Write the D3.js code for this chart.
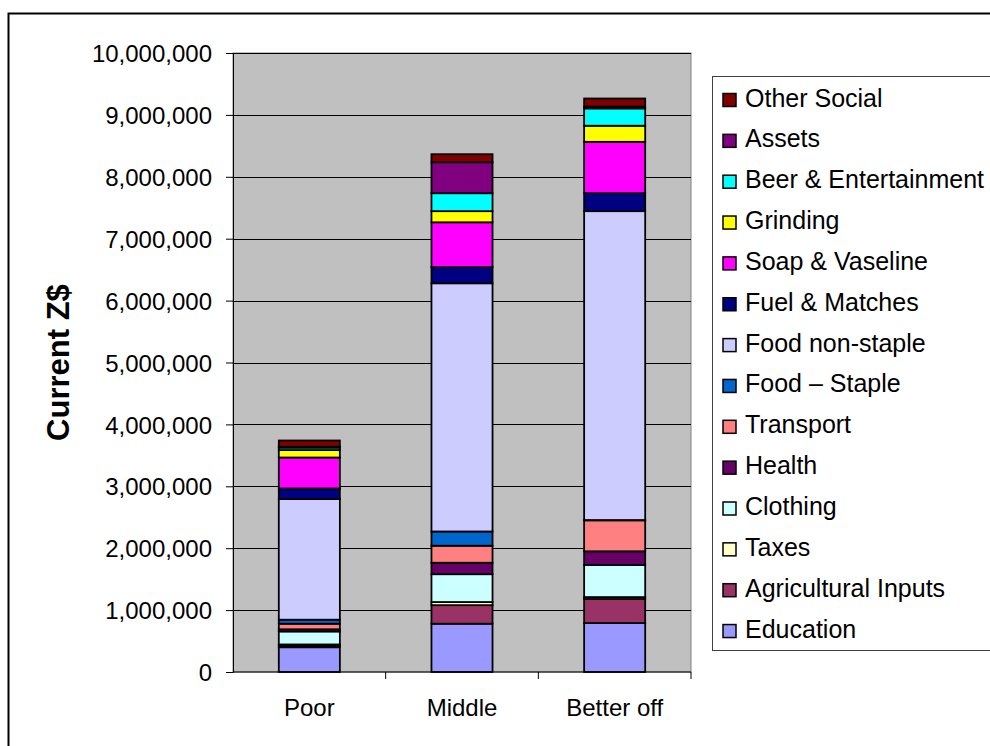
<!DOCTYPE html>
<html>
<head>
<meta charset="utf-8">
<script src="https://cdn.jsdelivr.net/npm/d3@7"></script>
<style>
  body { margin: 0; background: #fff; }
  text { font-family: "Liberation Sans", Arial, sans-serif; fill: #000; }
</style>
</head>
<body>
<svg id="chart" width="990" height="746"></svg>
<script>
// categories along the x axis
const categories = ["Poor", "Middle", "Better off"];

// series, stacked from the bottom up
const seriesNames = [
    "Education", "Agricultural Inputs", "Taxes", "Clothing", "Health", "Transport",
    "Food \u2013 Staple", "Food non-staple", "Fuel & Matches", "Soap & Vaseline",
    "Grinding", "Beer & Entertainment", "Assets", "Other Social"
];
const seriesColors = [
    "#9999FF", "#993366", "#FFFFCC", "#CCFFFF", "#660066", "#FF8080",
    "#0066CC", "#CCCCFF", "#000080", "#FF00FF",
    "#FFFF00", "#00FFFF", "#800080", "#800000"
];

// values per category (Poor, Middle, Better off), in Z$
const education      = [400000, 780000, 790000];
const agriInputs     = [30000, 300000, 390000];
const taxes          = [15000, 50000, 30000];
const clothing       = [210000, 450000, 520000];
const health         = [35000, 185000, 220000];
const transport      = [90000, 275000, 500000];
const foodStaple     = [65000, 230000, 5000];
const foodNonStaple  = [1950000, 4010000, 4990000];
const fuelMatches    = [170000, 260000, 290000];
const soapVaseline   = [500000, 725000, 830000];
const grinding       = [120000, 180000, 260000];
const beerEntertain  = [40000, 290000, 280000];
const assets         = [15000, 500000, 30000];
const otherSocial    = [100000, 130000, 130000];

const yTicks = [0, 1000000, 2000000, 3000000, 4000000, 5000000, 6000000, 7000000, 8000000, 9000000, 10000000];

const seriesValues = [education, agriInputs, taxes, clothing, health, transport,
    foodStaple, foodNonStaple, fuelMatches, soapVaseline, grinding, beerEntertain, assets, otherSocial];

const rows = categories.map((c, i) => {
    let row = {category: c};
    seriesNames.forEach((s, j) => { row[s] = seriesValues[j][i]; });
    return row;
});

const plot = {left: 233, right: 691, top: 53, bottom: 672};
const svg = d3.select("#chart");

// outer chart border
svg.append("rect")
    .attr("x", 8.5).attr("y", 13.5)
    .attr("width", 1000).attr("height", 800)
    .attr("fill", "#fff")
    .attr("stroke", "#000")
    .attr("stroke-width", 2);

const x = d3.scaleBand()
    .domain(categories)
    .range([plot.left, plot.right]);

const y = d3.scaleLinear()
    .domain([0, 10000000])
    .range([plot.bottom, plot.top]);

// plot area background
svg.append("rect")
    .attr("x", plot.left).attr("y", plot.top)
    .attr("width", plot.right - plot.left)
    .attr("height", plot.bottom - plot.top)
    .attr("fill", "#C0C0C0")
    .attr("stroke", "#808080")
    .attr("stroke-width", 1);

// gridlines
svg.append("g")
    .selectAll("line")
    .data(yTicks.filter(d => d > 0))
    .enter()
    .append("line")
    .attr("x1", plot.left).attr("x2", plot.right)
    .attr("y1", d => Math.round(y(d)) + 0.5)
    .attr("y2", d => Math.round(y(d)) + 0.5)
    .attr("stroke", "#000")
    .attr("stroke-width", 1);

// stacked bars
const stack = d3.stack().keys(seriesNames)(rows);
const barWidth = x.bandwidth() * 0.4;

svg.append("g")
    .selectAll("g")
    .data(stack)
    .enter()
    .append("g")
    .attr("fill", (d, i) => seriesColors[i])
    .selectAll("rect")
    .data(d => d)
    .enter()
    .append("rect")
    .attr("x", d => x(d.data.category) + (x.bandwidth() - barWidth) / 2)
    .attr("y", d => y(d[1]))
    .attr("width", barWidth)
    .attr("height", d => y(d[0]) - y(d[1]))
    .attr("stroke", "#000")
    .attr("stroke-width", 1.8);

// y axis
const yAxis = svg.append("g")
    .attr("transform", "translate(" + plot.left + ",0)")
    .call(d3.axisLeft(y).tickValues(yTicks).tickSize(7).tickPadding(14)
        .tickFormat(d3.format(",")));
yAxis.select(".domain").attr("stroke", "#000");
yAxis.selectAll(".tick line").attr("stroke", "#000");
yAxis.selectAll("text")
    .style("font-size", "24px")
    .attr("font-family", null)
    .attr("dy", "0.36em");

// x axis, ticks between categories
const xAxis = svg.append("g")
    .attr("transform", "translate(0," + plot.bottom + ")");
xAxis.append("line")
    .attr("x1", plot.left).attr("x2", plot.right)
    .attr("stroke", "#000");
xAxis.selectAll(".sep")
    .data(categories)
    .enter()
    .append("line")
    .attr("class", "sep")
    .attr("x1", d => x(d) + x.bandwidth()).attr("x2", d => x(d) + x.bandwidth())
    .attr("y1", 0).attr("y2", 7)
    .attr("stroke", "#000");
xAxis.selectAll(".cat")
    .data(categories)
    .enter()
    .append("text")
    .attr("class", "cat")
    .attr("x", d => x(d) + x.bandwidth() / 2)
    .attr("y", 44)
    .attr("text-anchor", "middle")
    .style("font-size", "24px")
    .text(d => d);

// y axis title
svg.append("text")
    .attr("transform", "translate(69," + ((plot.top + plot.bottom) / 2) + ") rotate(-90)")
    .attr("text-anchor", "middle")
    .style("font-size", "31px")
    .style("font-weight", "bold")
    .text("Current Z$");

// legend, top entry is the last series
const legend = svg.append("g");
legend.append("rect")
    .attr("x", 712.5).attr("y", 76.5)
    .attr("width", 300).attr("height", 574)
    .attr("fill", "#fff")
    .attr("stroke", "#404040")
    .attr("stroke-width", 1);

const legendItems = seriesNames.map((s, i) => ({name: s, color: seriesColors[i]})).reverse();

const item = legend.selectAll(".item")
    .data(legendItems)
    .enter()
    .append("g")
    .attr("class", "item")
    .attr("transform", (d, i) => "translate(0," + (106.5 + i * 40.85) + ")");

item.append("rect")
    .attr("x", 723).attr("y", -13)
    .attr("width", 13).attr("height", 13)
    .attr("fill", d => d.color)
    .attr("stroke", "#000")
    .attr("stroke-width", 1.5);

item.append("text")
    .attr("x", 745)
    .attr("y", 0)
    .style("font-size", "25px")
    .text(d => d.name);
</script>
</body>
</html>
